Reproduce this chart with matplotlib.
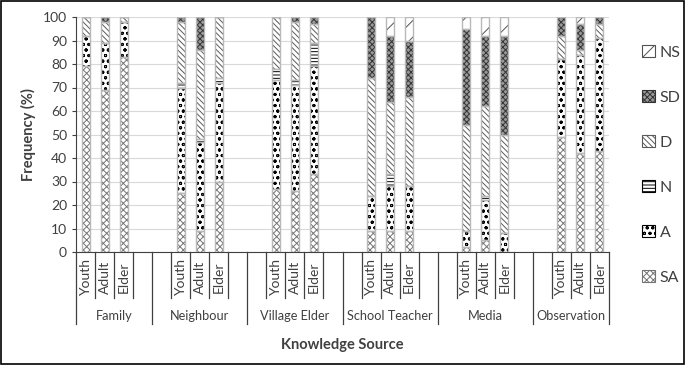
import matplotlib
matplotlib.use("Agg")
from matplotlib import pyplot as plt
from matplotlib.patches import Patch, Rectangle
import numpy as np

plt.rcParams['font.family'] = ['Lato', 'DejaVu Sans']
plt.rcParams['hatch.linewidth'] = 0.7

# data (percent), bars in order Youth / Adult / Elder for each source
sources = ['Family', 'Neighbour', 'Village Elder', 'School Teacher', 'Media', 'Observation']
ages = ['Youth', 'Adult', 'Elder']
SA = [79, 69, 83, 25, 9, 30, 27, 26, 33, 9, 9, 9, 2, 5, 0, 49, 42, 43]
A = [13, 20, 15, 45, 38, 42, 46, 45, 46, 15, 19, 19, 7, 17, 8, 33, 42, 48]
N = [0, 0, 0, 2, 1, 2, 5, 2, 10, 0, 5, 0, 0, 2, 0, 0, 0, 0]
D = [8, 9, 2, 26, 38, 26, 22, 25, 8, 50, 31, 38, 45, 38, 42, 10, 2, 6]
SD = [0, 2, 0, 2, 14, 0, 0, 2, 3, 26, 28, 24, 41, 30, 42, 8, 11, 3]
NS = [0, 0, 0, 0, 0, 0, 0, 0, 0, 0, 8, 10, 5, 8, 8, 0, 3, 0]

series = [('SA', SA), ('A', A), ('N', N), ('D', D), ('SD', SD), ('NS', NS)]
# face, hatch, hatch colour
styles = {
    'SA': ('white', 'xxxxx', '#747474'),
    'A': ('white', 'ooo', 'black'),
    'N': ('white', '-----', 'black'),
    'D': ('white', '\\' * 6, '#5a5a5a'),
    'SD': ('#999999', 'xxxxxx', '#333333'),
    'NS': ('white', '//', '#505050'),
}

# slot layout: empty slot between groups (Excel blank rows)
pos = []
bounds = [-0.5]
slot = 0
for gi, g in enumerate(sources):
    if gi > 0:
        slot += 1
    for a in ages:
        pos.append(slot)
        slot += 1
    if gi < len(sources) - 1:
        slot += 1
    bounds.append(slot - 0.5)
pos = np.array(pos)
nslots = slot

fig = plt.figure(figsize=(6.85, 3.65), dpi=100)
ax = fig.add_axes([76 / 685, 1 - 252 / 365, 533 / 685, 235 / 365])

w = 0.42
bottom = np.zeros(len(pos))
for name, vals in series:
    vals = np.array(vals, dtype=float)
    fc, h, hc = styles[name]
    ax.bar(pos, vals, w, bottom=bottom, color=fc, hatch=h, edgecolor=hc, linewidth=0, zorder=2)
    ax.bar(pos, vals, w, bottom=bottom, fill=False, edgecolor='#b8b8b8', linewidth=1.0, zorder=3)
    bottom += vals

ax.set_xlim(-0.5, nslots - 0.5)
ax.set_ylim(0, 100)
ax.set_yticks(range(0, 101, 10))
ax.yaxis.grid(True, color='#d9d9d9', linewidth=0.8, zorder=0)
ax.set_axisbelow(True)
ax.set_xticks([])
ax.tick_params(axis='y', labelsize=10, labelcolor='#404040', length=3, color='#404040')
for s in ['top', 'right']:
    ax.spines[s].set_visible(False)
ax.spines['left'].set_color('#404040')
ax.spines['bottom'].set_color('#404040')

# multi-level category axis
tr = ax.get_xaxis_transform()
for i in range(nslots - 1):
    b = i + 0.5
    if b in bounds:
        continue
    ax.plot([b, b], [0, -0.196], transform=tr, color='#404040', lw=0.9, clip_on=False)
for b in bounds:
    ax.plot([b, b], [0, -0.308], transform=tr, color='#404040', lw=0.9, clip_on=False)
for i, p in enumerate(pos):
    ax.text(p, -0.108, ages[i % 3], transform=tr, rotation=90, ha='center', va='center',
            fontsize=10, color='#404040')
for gi, g in enumerate(sources):
    ax.text((bounds[gi] + bounds[gi + 1]) / 2, -0.273, g, transform=tr, ha='center',
            va='center', fontsize=9.2, color='#404040')

ax.set_ylabel('Frequency (%)', fontsize=10.5, fontweight='bold', color='#404040', labelpad=5)
fig.text(342 / 685, 1 - 345 / 365, 'Knowledge Source', ha='center', va='center',
         fontsize=10.5, fontweight='bold', color='#404040')

handles = []
for name, vals in series[::-1]:
    fc, h, hc = styles[name]
    handles.append(Patch(facecolor=fc, hatch=h, edgecolor=hc, linewidth=0.8, label=name))
fig.legend(handles=handles, loc='center left', bbox_to_anchor=(634 / 685, 1 - 165 / 365),
           frameon=False, fontsize=11.5, labelcolor='#404040', handlelength=0.8,
           handleheight=0.8, handletextpad=0.3, labelspacing=1.9, borderpad=0)

fig.add_artist(Rectangle((0.001, 0.002), 0.997, 0.996, transform=fig.transFigure,
                         fill=False, edgecolor='black', linewidth=1.2))

fig.savefig('out.png', dpi=100)
